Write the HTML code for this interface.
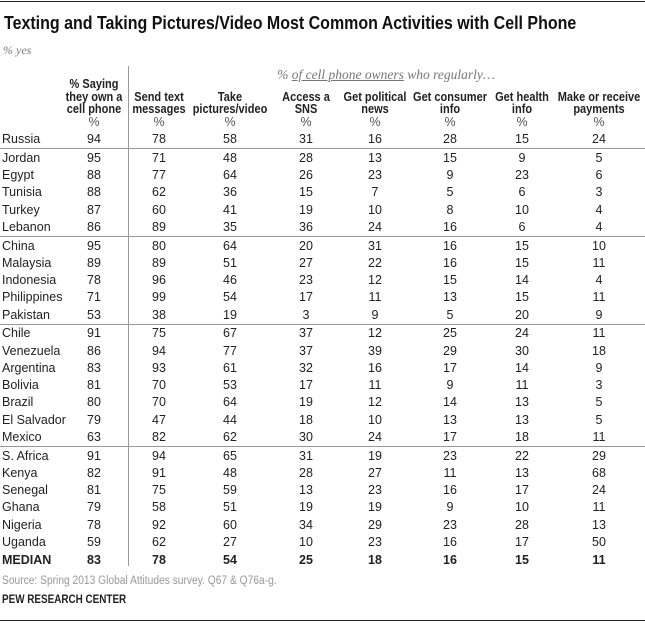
<!DOCTYPE html>
<html><head><meta charset="utf-8">
<style>
body{margin:0;width:645px;height:623px;background:#fff;position:relative;overflow:hidden;font-family:"Liberation Sans",sans-serif;color:#222}
.a{position:absolute;white-space:nowrap}
.c{transform:translateX(-50%);text-align:center}
.h{transform:translateX(-50%) scaleX(0.88)}
.hl{position:absolute;left:0;width:645px;height:1px;background:#999}
.h{font-weight:bold;font-size:12.5px;line-height:12.5px}
.v{font-size:12.5px;line-height:14px}
</style></head><body>
<div class="hl" style="top:1px;background:#222"></div>
<div class="a" style="left:4px;top:13px;font-size:18px;font-weight:bold;color:#111;transform:scaleX(0.888);transform-origin:0 0">Texting and Taking Pictures/Video Most Common Activities with Cell Phone</div>
<div class="a" style="left:3px;top:43px;font-size:12px;font-style:italic;color:#777;font-family:'Liberation Serif',serif">% yes</div>
<div class="a c" style="left:386px;top:67px;font-size:13.5px;font-style:italic;color:#777;font-family:'Liberation Serif',serif">% <u>of cell phone owners</u> who regularly…</div>
<div class="a" style="left:128px;top:66px;width:1px;height:500px;background:#999"></div>
<div class="a" style="left:2px;top:575px;font-size:11.5px;color:#999;transform:scaleX(0.89);transform-origin:0 0">Source: Spring 2013 Global Attitudes survey. Q67 &amp; Q76a-g.</div>
<div class="a" style="left:2px;top:594px;font-size:11.5px;font-weight:bold;color:#222;transform:scaleX(0.86);transform-origin:0 0">PEW RESEARCH CENTER</div>
<div class="hl" style="top:620px;background:#222"></div>
<script>
const headers=[["% Saying","they own a","cell phone"],["Send text","messages"],["Take","pictures/video"],["Access a","SNS"],["Get political","news"],["Get consumer","info"],["Get health","info"],["Make or receive","payments"]];
const countries=["Russia","Jordan","Egypt","Tunisia","Turkey","Lebanon","China","Malaysia","Indonesia","Philippines","Pakistan","Chile","Venezuela","Argentina","Bolivia","Brazil","El Salvador","Mexico","S. Africa","Kenya","Senegal","Ghana","Nigeria","Uganda"];
const ownPhone=[94,95,88,88,87,86,95,89,78,71,53,91,86,83,81,80,79,63,91,82,81,79,78,59];
const sendText=[78,71,77,62,60,89,80,89,96,99,38,75,94,93,70,70,47,82,94,91,75,58,92,62];
const takePics=[58,48,64,36,41,35,64,51,46,54,19,67,77,61,53,64,44,62,65,48,59,51,60,27];
const accessSNS=[31,28,26,15,19,36,20,27,23,17,3,37,37,32,17,19,18,30,31,28,13,19,34,10];
const politicalNews=[16,13,23,7,10,24,31,22,12,11,9,12,39,16,11,12,10,24,19,27,23,19,29,23];
const consumerInfo=[28,15,9,5,8,16,16,16,15,13,5,25,29,17,9,14,13,17,23,11,16,9,23,16];
const healthInfo=[15,9,23,6,10,6,15,15,14,15,20,24,30,14,11,13,13,18,22,13,17,10,28,17];
const payments=[24,5,6,3,4,4,10,11,4,11,9,11,18,9,3,5,5,11,29,68,24,11,13,50];
const median=[83,78,54,25,18,16,15,11];
const groupBreaks=[0,5,10,17];
const series=[ownPhone,sendText,takePics,accessSNS,politicalNews,consumerInfo,healthInfo,payments];
const colX=[94,159,230,306,375,450,522,599];
const body=document.body;
function el(cls,left,top,txt){const d=document.createElement('div');d.className='a '+cls;d.style.left=left+'px';d.style.top=top+'px';d.textContent=txt;body.appendChild(d);return d;}
headers.forEach((lines,i)=>{
  const top=[78,91,103].slice(3-lines.length);
  lines.forEach((t,j)=>{const d=el('h',colX[i],top[j],t);
    
    });
  const p=el('c v',colX[i],115,'%');p.style.color='#555';
  
  
});
const rowY=i=>{let y=132+i*17.25;for(const b of groupBreaks){if(i>b)y+=1.5;}return y;};
countries.forEach((c,i)=>{
  const y=rowY(i);
  const n=el('v',2,y,c);
  
  
  series.forEach((s,k)=>{const d=el('c v',colX[k],y,String(s[i]));
    
    });
  if(groupBreaks.includes(i)){const l=document.createElement('div');l.className='hl';l.style.top=(y+16)+'px';
    
    
    body.appendChild(l);}
});
const my=rowY(countries.length)+0.5;
const ml=el('v',2,my,'MEDIAN');ml.style.fontWeight='bold';


median.forEach((m,k)=>{const d=el('c v',colX[k],my,String(m));d.style.fontWeight='bold';
  
  });
</script>
</body></html>
